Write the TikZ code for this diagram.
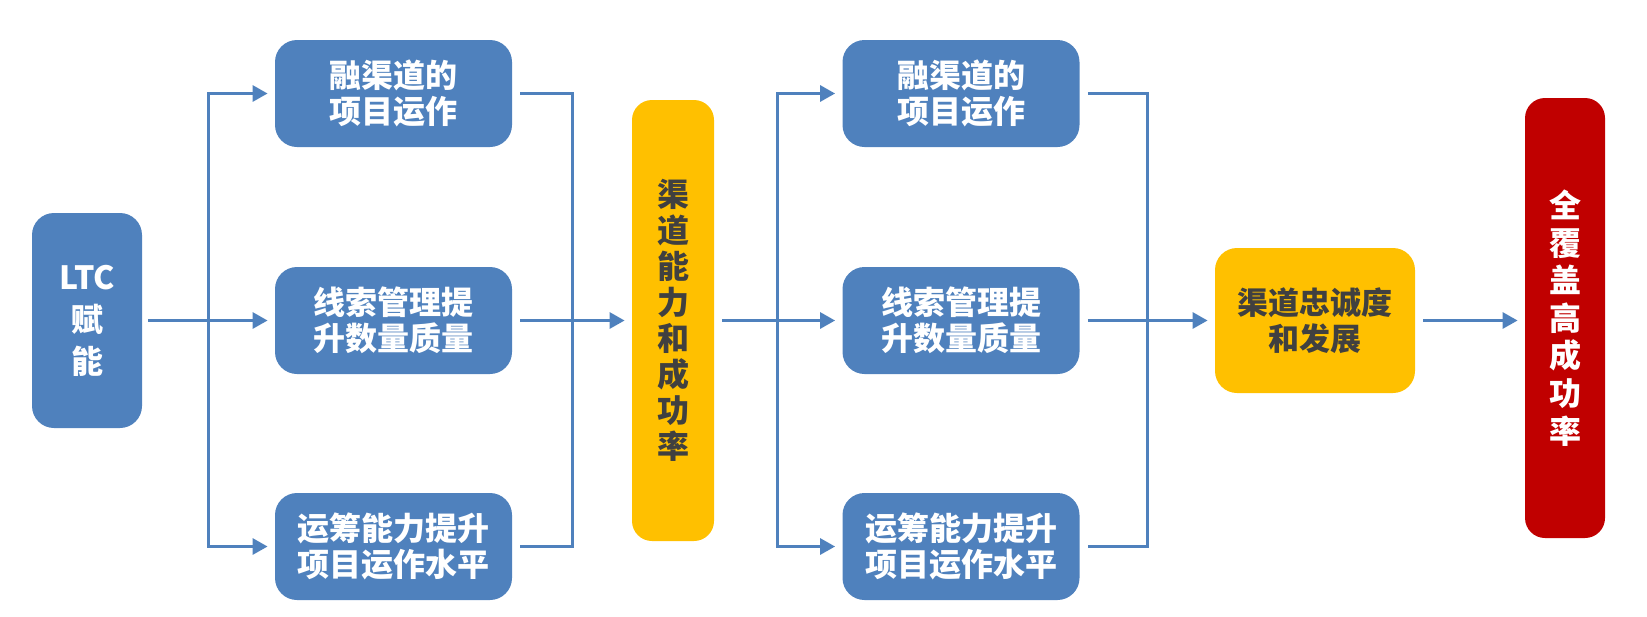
\documentclass[tikz,border=0pt]{standalone}
\usepackage{fontspec}
\setmainfont{Noto Sans CJK SC}
\usetikzlibrary{arrows.meta,positioning}

\definecolor{boxblue}{HTML}{4F81BD}
\definecolor{lineblue}{HTML}{4F81BD}
\definecolor{gold}{HTML}{FFC000}
\definecolor{darkred}{HTML}{C00000}
\definecolor{inkgray}{HTML}{404040}

\begin{document}
\begin{tikzpicture}[x=0.5pt,y=-0.5pt,
    txt/.style={font=\bfseries\fontsize{16}{18}\selectfont, align=center, inner sep=0pt},
    box/.style={txt, rounded corners=11pt, fill=boxblue, text=white, minimum width=118.5pt, minimum height=53.5pt},
    ltcbox/.style={box, minimum width=55pt, minimum height=107.5pt, font=\bfseries\fontsize{16}{21}\selectfont},
    goldbar/.style={txt, rounded corners=10pt, fill=gold, text=inkgray, minimum width=41pt, minimum height=220.5pt},
    goldbox/.style={txt, rounded corners=11pt, fill=gold, text=inkgray, minimum width=100pt, minimum height=72.5pt, font=\bfseries\fontsize{15.5}{18}\selectfont},
    redbar/.style={txt, rounded corners=10pt, fill=darkred, text=white, minimum width=40pt, minimum height=220pt, font=\bfseries\fontsize{16}{18.8}\selectfont},
    link/.style={line width=1.5pt, draw=lineblue},
    flow/.style={link, -{Triangle[length=7.5pt,width=8pt]}, shorten >=3.5pt},
    gap/.style={shorten <=4pt}]
    \useasboundingbox (0,0) rectangle (1647,616);

    %% left block
    \node[ltcbox] (ltc) at (87,320.5) {LTC\\赋\\能};
    \node[box] (p1) at (393.5,93.5) {融渠道的\\项目运作};
    \node[box] (q1) at (393.5,320.5) {线索管理提\\升数量质量};
    \node[box] (r1) at (393.5,546.5) {运筹能力提升\\项目运作水平};
    \node[goldbar] (cap) at (673,320.5) {渠\\道\\能\\力\\和\\成\\功\\率};

    %% right block
    \node[box] (p2) at (961,93.5) {融渠道的\\项目运作};
    \node[box] (q2) at (961,320.5) {线索管理提\\升数量质量};
    \node[box] (r2) at (961,546.5) {运筹能力提升\\项目运作水平};
    \node[goldbox] (loyal) at (1315,320.5) {渠道忠诚度\\和发展};
    \node[redbar] (win) at (1565,318) {全\\覆\\盖\\高\\成\\功\\率};

    %% bus lines
    \coordinate (busA) at (208,0);
    \coordinate (busB) at (572.5,0);
    \coordinate (busC) at (777,0);
    \coordinate (busD) at (1147,0);

    \draw[flow, shorten <=3pt] (ltc.east) -- (q1.west);
    \draw[flow] (busA |- ltc.east) |- (p1.west);
    \draw[flow] (busA |- ltc.east) |- (r1.west);
    \draw[link, gap, shorten >=4pt] (p1.east) -| (busB |- q1.east) |- (r1.east);
    \draw[flow, gap] (q1.east) -- (cap.west);

    \draw[flow, gap] (cap.east) -- (q2.west);
    \draw[flow] (busC |- cap.east) |- (p2.west);
    \draw[flow] (busC |- cap.east) |- (r2.west);
    \draw[link, gap, shorten >=4pt] (p2.east) -| (busD |- q2.east) |- (r2.east);
    \draw[flow, gap] (q2.east) -- (loyal.west);
    \draw[flow, gap] (loyal.east) -- (win.west |- loyal.east);
\end{tikzpicture}
\end{document}
